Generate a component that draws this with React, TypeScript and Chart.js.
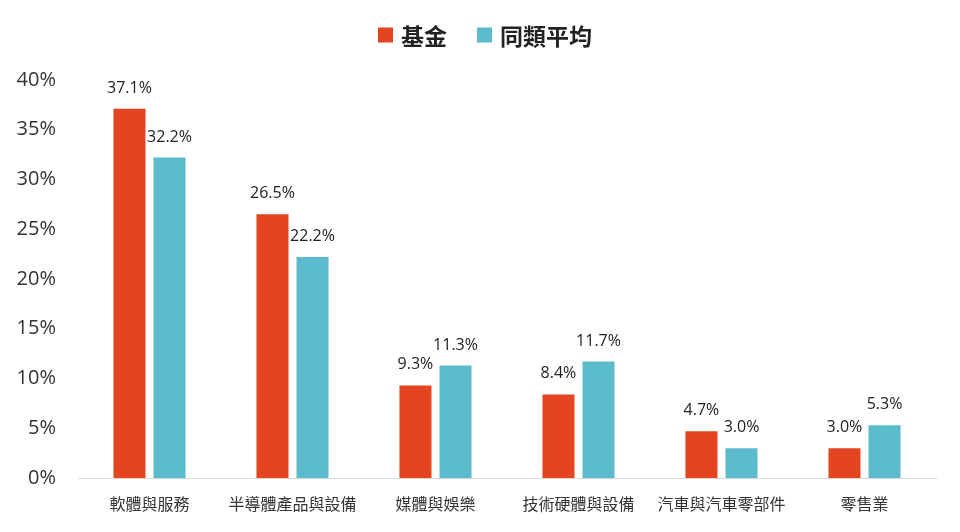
import React, { useEffect, useRef } from "react";
import { Chart, registerables } from "chart.js";

Chart.register(...registerables);

const categories = ["軟體與服務", "半導體產品與設備", "媒體與娛樂", "技術硬體與設備", "汽車與汽車零部件", "零售業"];
const fundValues = [37.1, 26.5, 9.3, 8.4, 4.7, 3.0];
const peerValues = [32.2, 22.2, 11.3, 11.7, 3.0, 5.3];
const seriesNames = ["基金", "同類平均"];
const yTicks = [0, 5, 10, 15, 20, 25, 30, 35, 40];

const ORANGE = "#E2451F";
const TEAL = "#5BBACB";

const labelPlugin = {
  id: "barLabels",
  afterDatasetsDraw(chart: any) {
    const ctx = chart.ctx;
    ctx.save();
    ctx.font = "16px 'Open Sans', 'Noto Sans', sans-serif";
    ctx.fillStyle = "#222";
    ctx.textAlign = "center";
    ctx.textBaseline = "alphabetic";
    chart.data.datasets.forEach((ds: any, i: number) => {
      const meta = chart.getDatasetMeta(i);
      meta.data.forEach((bar: any, j: number) => {
        const v = ds.data[j];
        ctx.fillText(v.toFixed(1) + "%", bar.x, bar.y - 16);
      });
    });
    ctx.restore();
  },
};

const legendPlugin = {
  id: "customLegend",
  afterDraw(chart: any) {
    const ctx = chart.ctx;
    ctx.save();
    ctx.font = "bold 23px 'Noto Sans CJK TC', sans-serif";
    ctx.textBaseline = "middle";
    ctx.textAlign = "left";
    const box = 15;
    const gap = 8;
    const spacing = 30;
    const items = chart.data.datasets.map((ds: any) => ({
      label: ds.label,
      color: ds.backgroundColor,
      w: box + gap + ctx.measureText(ds.label).width,
    }));
    const total = items.reduce((s: number, it: any) => s + it.w, 0) + spacing * (items.length - 1);
    let x = 485 - total / 2;
    const cy = 35;
    items.forEach((it: any) => {
      ctx.fillStyle = it.color;
      ctx.fillRect(x, cy - box / 2, box, box);
      ctx.fillStyle = "#222";
      ctx.fillText(it.label, x + box + gap, cy + 1);
      x += it.w + spacing;
    });
    ctx.restore();
  },
};

export default function App() {
  const ref = useRef<HTMLCanvasElement>(null);
  useEffect(() => {
    document.body.style.margin = "0";
    const chart = new Chart(ref.current!, {
      type: "bar",
      data: {
        labels: categories,
        datasets: [
          { label: seriesNames[0], data: fundValues, backgroundColor: ORANGE, barPercentage: 0.8, categoryPercentage: 0.56 },
          { label: seriesNames[1], data: peerValues, backgroundColor: TEAL, barPercentage: 0.8, categoryPercentage: 0.56 },
        ],
      },
      options: {
        animation: false,
        responsive: false,
        layout: { padding: { top: 80, right: 24, bottom: 0, left: 0 } },
        plugins: {
          legend: { display: false },
          tooltip: { enabled: false },
        },
        scales: {
          x: {
            afterFit: (axis: any) => {
              axis.height = 54;
            },
            grid: { display: false, drawTicks: false },
            border: { display: true, color: "#d9d9d9" },
            ticks: {
              color: "#333",
              padding: 16,
              font: { family: "'Noto Sans CJK TC', sans-serif", size: 16 },
            },
          },
          y: {
            min: 0,
            max: 40,
            afterBuildTicks: (axis: any) => {
              axis.ticks = yTicks.map((v) => ({ value: v }));
            },
            afterFit: (axis: any) => {
              axis.width = 78;
            },
            grid: { display: false, drawTicks: false },
            border: { display: false },
            ticks: {
              color: "#333",
              padding: 22,
              font: { family: "'Open Sans', sans-serif", size: 20 },
              callback: (v: any) => v + "%",
            },
          },
        },
      },
      plugins: [labelPlugin, legendPlugin],
    });
    return () => chart.destroy();
  }, []);
  return (
    <div style={{ width: 960, height: 532 }}>
      <canvas ref={ref} width={960} height={532} style={{ display: "block" }} />
    </div>
  );
}
